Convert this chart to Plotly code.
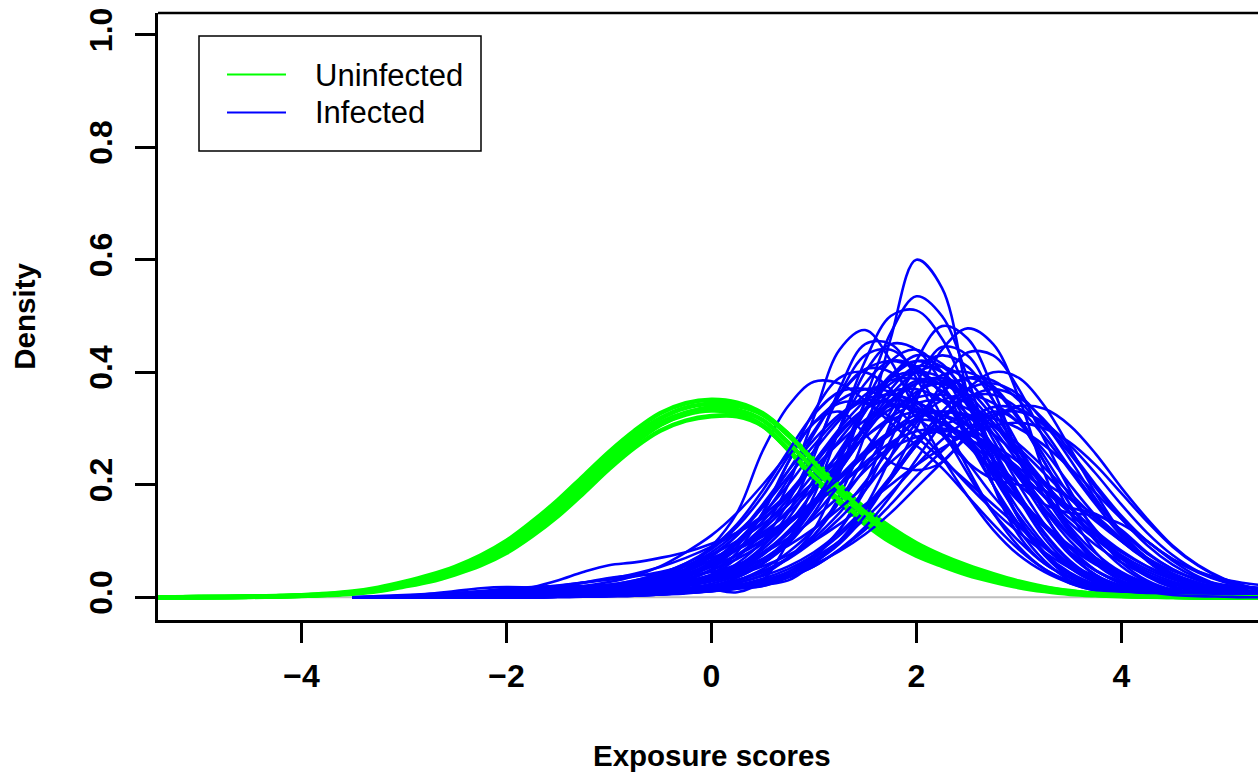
import plotly.graph_objects as go

# ---------------- data ----------------
x_green = [-5.5, -5.25, -5.0, -4.75, -4.5, -4.25, -4.0, -3.75, -3.5, -3.25,
           -3.0, -2.75, -2.5, -2.25, -2.0, -1.75, -1.5, -1.25, -1.0, -0.75,
           -0.5, -0.25, 0.0, 0.25, 0.5, 0.75, 1.0, 1.25, 1.5, 1.75,
           2.0, 2.25, 2.5, 2.75, 3.0, 3.25, 3.5, 3.75, 4.0, 4.25,
           4.5, 4.75, 5.0, 5.25, 5.5]

green_1 = [0, 0.0001, 0.0003, 0.0006, 0.0012, 0.002, 0.0035, 0.006, 0.01, 0.017,
           0.027, 0.039, 0.054, 0.074, 0.1, 0.134, 0.172, 0.215, 0.258, 0.296,
           0.327, 0.345, 0.351, 0.346, 0.327, 0.29, 0.245, 0.2, 0.158, 0.124,
           0.096, 0.074, 0.056, 0.041, 0.028, 0.018, 0.011, 0.006, 0.0035, 0.0018,
           0.0008, 0.0003, 0.0001, 0, 0]
green_2 = [0, 0, 0.0001, 0.0003, 0.0007, 0.0013, 0.0023, 0.004, 0.0065, 0.011,
           0.019, 0.028, 0.041, 0.057, 0.079, 0.109, 0.144, 0.185, 0.228, 0.266,
           0.296, 0.314, 0.322, 0.322, 0.305, 0.262, 0.21, 0.168, 0.13, 0.098,
           0.074, 0.056, 0.04, 0.028, 0.018, 0.011, 0.006, 0.0035, 0.002, 0.001,
           0.0005, 0.0002, 0, 0, 0]
green_3 = [0, 0.0001, 0.0002, 0.0005, 0.001, 0.0019, 0.0032, 0.0055, 0.009, 0.015,
           0.025, 0.036, 0.05, 0.069, 0.094, 0.127, 0.165, 0.208, 0.25, 0.288,
           0.318, 0.337, 0.344, 0.342, 0.325, 0.288, 0.242, 0.197, 0.155, 0.12,
           0.092, 0.071, 0.053, 0.038, 0.026, 0.017, 0.01, 0.006, 0.0035, 0.0018,
           0.0009, 0.0004, 0.0001, 0, 0]
green_4 = [0, 0.0001, 0.0002, 0.0004, 0.0009, 0.0016, 0.0028, 0.0047, 0.0077, 0.013,
           0.022, 0.032, 0.045, 0.063, 0.086, 0.117, 0.153, 0.194, 0.238, 0.276,
           0.307, 0.325, 0.332, 0.327, 0.305, 0.263, 0.215, 0.173, 0.135, 0.104,
           0.08, 0.061, 0.045, 0.032, 0.022, 0.013, 0.008, 0.0045, 0.0027, 0.0013,
           0.0007, 0.0003, 0.0001, 0, 0]
green_5 = [0, 0.0001, 0.0002, 0.0005, 0.001, 0.0018, 0.003, 0.005, 0.008, 0.014,
           0.023, 0.033, 0.047, 0.065, 0.089, 0.121, 0.158, 0.2, 0.243, 0.28,
           0.31, 0.328, 0.336, 0.333, 0.315, 0.275, 0.228, 0.185, 0.145, 0.112,
           0.086, 0.066, 0.049, 0.035, 0.024, 0.015, 0.009, 0.005, 0.003, 0.0015,
           0.0008, 0.0003, 0.0001, 0, 0]
green_6 = [0, 0, 0.0001, 0.0004, 0.0008, 0.0015, 0.0026, 0.0045, 0.0075, 0.0125,
           0.021, 0.031, 0.044, 0.061, 0.084, 0.115, 0.151, 0.192, 0.236, 0.274,
           0.306, 0.327, 0.338, 0.34, 0.325, 0.29, 0.24, 0.193, 0.151, 0.116,
           0.088, 0.067, 0.05, 0.036, 0.025, 0.016, 0.0095, 0.0055, 0.003, 0.0015,
           0.0008, 0.0003, 0.0001, 0, 0]

x_blue = [-3.5, -3.25, -3.0, -2.75, -2.5, -2.25, -2.0, -1.75, -1.5, -1.25,
          -1.0, -0.75, -0.5, -0.25, 0.0, 0.25, 0.5, 0.75, 1.0, 1.25,
          1.5, 1.75, 2.0, 2.25, 2.5, 2.75, 3.0, 3.25, 3.5, 3.75,
          4.0, 4.25, 4.5, 4.75, 5.0, 5.25, 5.5]

blue_01 = [0, 0, 0, 0, 0.001, 0.002, 0.003, 0.003, 0.003, 0.004,
           0.006, 0.008, 0.01, 0.013, 0.02, 0.03, 0.045, 0.07, 0.11, 0.18,
           0.29, 0.46, 0.6, 0.55, 0.36, 0.2, 0.11, 0.06, 0.035, 0.02,
           0.01, 0.005, 0.003, 0.001, 0, 0, 0]
blue_02 = [0, 0, 0, 0, 0, 0.001, 0.002, 0.003, 0.004, 0.005,
           0.006, 0.008, 0.01, 0.014, 0.02, 0.03, 0.045, 0.07, 0.12, 0.22,
           0.35, 0.47, 0.535, 0.5, 0.39, 0.25, 0.14, 0.075, 0.04, 0.02,
           0.01, 0.005, 0.002, 0.001, 0, 0, 0]
blue_03 = [0, 0, 0, 0, 0, 0, 0.001, 0.002, 0.003, 0.005,
           0.008, 0.012, 0.018, 0.025, 0.035, 0.045, 0.06, 0.1, 0.18, 0.3,
           0.42, 0.5, 0.51, 0.46, 0.36, 0.24, 0.14, 0.075, 0.035, 0.015,
           0.006, 0.002, 0.001, 0, 0, 0, 0]
blue_04 = [0, 0, 0, 0.001, 0.002, 0.003, 0.004, 0.005, 0.006, 0.008,
           0.01, 0.015, 0.02, 0.028, 0.04, 0.07, 0.12, 0.2, 0.32, 0.44,
           0.475, 0.42, 0.33, 0.25, 0.18, 0.12, 0.075, 0.045, 0.025, 0.012,
           0.006, 0.003, 0.001, 0, 0, 0, 0]
blue_05 = [0, 0, 0, 0, 0, 0, 0, 0.001, 0.002, 0.003,
           0.004, 0.006, 0.008, 0.011, 0.014, 0.017, 0.02, 0.04, 0.07, 0.12,
           0.2, 0.31, 0.42, 0.482, 0.46, 0.37, 0.25, 0.15, 0.08, 0.04,
           0.02, 0.01, 0.005, 0.002, 0.001, 0, 0]
blue_06 = [0, 0, 0, 0, 0, 0, 0, 0, 0.001, 0.002,
           0.003, 0.004, 0.006, 0.009, 0.012, 0.016, 0.022, 0.03, 0.06, 0.1,
           0.16, 0.25, 0.35, 0.44, 0.478, 0.45, 0.355, 0.22, 0.12, 0.06,
           0.03, 0.015, 0.007, 0.003, 0.001, 0, 0]
blue_07 = [0, 0, 0, 0, 0.001, 0.002, 0.003, 0.004, 0.005, 0.007,
           0.009, 0.012, 0.016, 0.022, 0.03, 0.05, 0.09, 0.15, 0.25, 0.37,
           0.45, 0.45, 0.39, 0.3, 0.22, 0.15, 0.1, 0.06, 0.035, 0.018,
           0.008, 0.003, 0.001, 0, 0, 0, 0]
blue_08 = [0, 0, 0, 0, 0.001, 0.002, 0.004, 0.006, 0.008, 0.009,
           0.01, 0.015, 0.03, 0.05, 0.09, 0.15, 0.26, 0.34, 0.383, 0.38,
           0.35, 0.31, 0.27, 0.23, 0.18, 0.13, 0.085, 0.05, 0.028, 0.014,
           0.006, 0.002, 0.001, 0, 0, 0, 0]
blue_09 = [0, 0, 0, 0, 0, 0, 0.001, 0.001, 0.002, 0.003,
           0.005, 0.007, 0.01, 0.02, 0.04, 0.08, 0.15, 0.24, 0.31, 0.33,
           0.29, 0.24, 0.226, 0.24, 0.29, 0.33, 0.31, 0.24, 0.15, 0.08,
           0.04, 0.02, 0.01, 0.005, 0.002, 0.001, 0]
blue_10 = [0, 0, 0, 0.001, 0.003, 0.005, 0.008, 0.012, 0.018, 0.02,
           0.022, 0.025, 0.028, 0.025, 0.015, 0.009, 0.03, 0.1, 0.2, 0.3,
           0.4, 0.45, 0.44, 0.38, 0.29, 0.2, 0.12, 0.065, 0.03, 0.014,
           0.006, 0.002, 0.001, 0, 0, 0, 0]
blue_11 = [0, 0, 0, 0.001, 0.002, 0.004, 0.006, 0.008, 0.01, 0.012,
           0.015, 0.02, 0.03, 0.04, 0.055, 0.075, 0.1, 0.13, 0.17, 0.21,
           0.255, 0.295, 0.325, 0.33, 0.32, 0.29, 0.25, 0.2, 0.15, 0.11,
           0.075, 0.05, 0.032, 0.02, 0.013, 0.01, 0.008]
blue_12 = [0, 0, 0, 0, 0, 0.001, 0.002, 0.003, 0.004, 0.006,
           0.008, 0.01, 0.013, 0.016, 0.02, 0.035, 0.06, 0.1, 0.16, 0.23,
           0.3, 0.35, 0.38, 0.38, 0.35, 0.3, 0.24, 0.19, 0.16, 0.148,
           0.12, 0.08, 0.05, 0.03, 0.02, 0.016, 0.014]
blue_13 = [0, 0, 0, 0, 0.001, 0.002, 0.003, 0.003, 0.004, 0.004,
           0.005, 0.012, 0.022, 0.038, 0.064, 0.1, 0.147, 0.2, 0.26, 0.315,
           0.36, 0.386, 0.388, 0.367, 0.325, 0.27, 0.213, 0.157, 0.108, 0.07,
           0.043, 0.025, 0.013, 0.007, 0.003, 0.001, 0]
blue_14 = [0, 0, 0, 0, 0, 0.001, 0.002, 0.003, 0.004, 0.005,
           0.006, 0.01, 0.018, 0.03, 0.048, 0.075, 0.11, 0.155, 0.205, 0.255,
           0.3, 0.335, 0.355, 0.36, 0.345, 0.31, 0.26, 0.205, 0.15, 0.105,
           0.068, 0.042, 0.025, 0.014, 0.008, 0.005, 0.003]
blue_15 = [0, 0.001, 0.002, 0.006, 0.011, 0.016, 0.018, 0.017, 0.015, 0.015,
           0.018, 0.025, 0.035, 0.05, 0.075, 0.11, 0.16, 0.225, 0.295, 0.36,
           0.405, 0.42, 0.405, 0.36, 0.29, 0.215, 0.145, 0.09, 0.052, 0.027,
           0.013, 0.006, 0.002, 0.001, 0, 0, 0]
blue_16 = [0, 0, 0, 0, 0, 0, 0, 0.001, 0.002, 0.003,
           0.005, 0.008, 0.011, 0.015, 0.02, 0.03, 0.05, 0.08, 0.12, 0.17,
           0.23, 0.3, 0.36, 0.395, 0.4, 0.375, 0.32, 0.25, 0.18, 0.12,
           0.072, 0.04, 0.02, 0.01, 0.005, 0.002, 0.001]
blue_17 = [0, 0, 0.001, 0.002, 0.003, 0.006, 0.01, 0.013, 0.016, 0.02,
           0.027, 0.038, 0.055, 0.08, 0.11, 0.15, 0.2, 0.255, 0.31, 0.35,
           0.37, 0.365, 0.34, 0.295, 0.24, 0.18, 0.13, 0.088, 0.055, 0.033,
           0.018, 0.009, 0.004, 0.002, 0.001, 0, 0]
blue_18 = [0, 0, 0, 0, 0, 0, 0.001, 0.002, 0.003, 0.004,
           0.006, 0.008, 0.01, 0.012, 0.015, 0.025, 0.04, 0.07, 0.11, 0.17,
           0.25, 0.33, 0.405, 0.43, 0.41, 0.35, 0.27, 0.19, 0.12, 0.07,
           0.038, 0.019, 0.009, 0.004, 0.002, 0.001, 0]
blue_19 = [0, 0, 0, 0.001, 0.002, 0.003, 0.004, 0.004, 0.005, 0.008,
           0.012, 0.018, 0.028, 0.042, 0.06, 0.085, 0.115, 0.15, 0.195, 0.24,
           0.285, 0.32, 0.345, 0.35, 0.335, 0.305, 0.265, 0.22, 0.175, 0.135,
           0.1, 0.07, 0.047, 0.032, 0.022, 0.018, 0.016]
blue_20 = [0, 0, 0, 0.001, 0.002, 0.005, 0.01, 0.018, 0.03, 0.045,
           0.057, 0.062, 0.07, 0.08, 0.095, 0.115, 0.14, 0.18, 0.24, 0.3,
           0.35, 0.39, 0.4, 0.375, 0.31, 0.23, 0.155, 0.095, 0.052, 0.026,
           0.012, 0.005, 0.002, 0.001, 0, 0, 0]
blue_21 = [0, 0, 0, 0, 0, 0, 0, 0, 0.001, 0.002,
           0.003, 0.004, 0.006, 0.008, 0.011, 0.015, 0.025, 0.04, 0.065, 0.1,
           0.15, 0.21, 0.27, 0.32, 0.355, 0.36, 0.335, 0.285, 0.225, 0.165,
           0.11, 0.07, 0.042, 0.025, 0.015, 0.01, 0.008]
blue_22 = [0, 0, 0, 0, 0.001, 0.002, 0.003, 0.004, 0.005, 0.006,
           0.008, 0.012, 0.02, 0.03, 0.05, 0.09, 0.15, 0.24, 0.33, 0.39,
           0.4, 0.37, 0.32, 0.29, 0.28, 0.26, 0.22, 0.165, 0.11, 0.065,
           0.035, 0.017, 0.008, 0.003, 0.001, 0, 0]
blue_23 = [0, 0, 0, 0.001, 0.002, 0.003, 0.004, 0.007, 0.01, 0.014,
           0.02, 0.028, 0.038, 0.05, 0.066, 0.085, 0.108, 0.135, 0.165, 0.2,
           0.24, 0.275, 0.295, 0.3, 0.29, 0.265, 0.23, 0.19, 0.15, 0.112,
           0.08, 0.055, 0.036, 0.023, 0.015, 0.01, 0.007]
blue_24 = [0, 0, 0, 0, 0, 0, 0.001, 0.002, 0.003, 0.004,
           0.005, 0.007, 0.01, 0.02, 0.035, 0.06, 0.1, 0.17, 0.26, 0.36,
           0.43, 0.44, 0.4, 0.32, 0.23, 0.15, 0.09, 0.05, 0.025, 0.012,
           0.005, 0.002, 0.001, 0, 0, 0, 0]
blue_25 = [0, 0, 0, 0, 0, 0, 0, 0, 0, 0.001,
           0.002, 0.003, 0.005, 0.008, 0.011, 0.015, 0.02, 0.035, 0.055, 0.085,
           0.12, 0.165, 0.215, 0.26, 0.3, 0.325, 0.33, 0.31, 0.27, 0.22,
           0.165, 0.115, 0.075, 0.046, 0.028, 0.018, 0.012]
blue_26 = [0, 0.002, 0.004, 0.006, 0.008, 0.01, 0.012, 0.013, 0.012, 0.01,
           0.01, 0.012, 0.016, 0.024, 0.036, 0.055, 0.085, 0.13, 0.19, 0.26,
           0.33, 0.39, 0.42, 0.41, 0.36, 0.28, 0.2, 0.13, 0.075, 0.04,
           0.019, 0.008, 0.003, 0.001, 0, 0, 0]
blue_27 = [0, 0, 0, 0, 0.001, 0.002, 0.003, 0.004, 0.006, 0.008,
           0.011, 0.016, 0.024, 0.036, 0.055, 0.085, 0.125, 0.175, 0.235, 0.29,
           0.335, 0.365, 0.37, 0.35, 0.305, 0.245, 0.18, 0.125, 0.08, 0.048,
           0.027, 0.014, 0.007, 0.003, 0.001, 0, 0]
blue_28 = [0, 0, 0, 0, 0, 0, 0.001, 0.002, 0.003, 0.004,
           0.006, 0.009, 0.013, 0.02, 0.03, 0.048, 0.075, 0.115, 0.17, 0.235,
           0.3, 0.36, 0.4, 0.41, 0.385, 0.33, 0.26, 0.19, 0.125, 0.078,
           0.045, 0.025, 0.013, 0.006, 0.003, 0.001, 0]
blue_29 = [0, 0, 0, 0, 0, 0, 0, 0.001, 0.002, 0.003,
           0.005, 0.007, 0.01, 0.014, 0.02, 0.03, 0.046, 0.07, 0.105, 0.15,
           0.205, 0.265, 0.32, 0.365, 0.39, 0.385, 0.35, 0.295, 0.23, 0.17,
           0.118, 0.078, 0.05, 0.031, 0.019, 0.012, 0.008]
blue_30 = [0, 0, 0.001, 0.002, 0.003, 0.004, 0.005, 0.006, 0.008, 0.011,
           0.016, 0.024, 0.036, 0.055, 0.08, 0.115, 0.16, 0.215, 0.27, 0.32,
           0.35, 0.345, 0.33, 0.31, 0.28, 0.235, 0.18, 0.125, 0.08, 0.047,
           0.026, 0.013, 0.006, 0.002, 0.001, 0, 0]
blue_31 = [0, 0, 0, 0, 0, 0, 0, 0.001, 0.001, 0.002,
           0.003, 0.005, 0.008, 0.013, 0.02, 0.035, 0.06, 0.1, 0.165, 0.25,
           0.345, 0.42, 0.44, 0.4, 0.32, 0.225, 0.14, 0.08, 0.04, 0.018,
           0.007, 0.003, 0.001, 0, 0, 0, 0]
blue_32 = [0, 0, 0, 0, 0, 0, 0, 0, 0.001, 0.002,
           0.003, 0.004, 0.006, 0.009, 0.013, 0.02, 0.03, 0.045, 0.07, 0.1,
           0.14, 0.185, 0.235, 0.28, 0.315, 0.338, 0.335, 0.305, 0.255, 0.195,
           0.14, 0.093, 0.058, 0.034, 0.019, 0.01, 0.005]
blue_33 = [0, 0, 0, 0.001, 0.002, 0.004, 0.006, 0.008, 0.01, 0.012,
           0.015, 0.02, 0.028, 0.04, 0.058, 0.085, 0.12, 0.165, 0.22, 0.28,
           0.335, 0.38, 0.4, 0.39, 0.35, 0.29, 0.22, 0.155, 0.1, 0.06,
           0.034, 0.018, 0.009, 0.004, 0.002, 0.001, 0]
blue_34 = [0, 0, 0, 0, 0.001, 0.002, 0.003, 0.004, 0.005, 0.007,
           0.01, 0.014, 0.02, 0.028, 0.04, 0.056, 0.078, 0.105, 0.14, 0.18,
           0.225, 0.27, 0.315, 0.35, 0.36, 0.345, 0.31, 0.26, 0.2, 0.145,
           0.1, 0.066, 0.042, 0.026, 0.016, 0.01, 0.006]
blue_35 = [0, 0.001, 0.002, 0.004, 0.007, 0.011, 0.015, 0.018, 0.02, 0.019,
           0.017, 0.016, 0.018, 0.024, 0.035, 0.055, 0.09, 0.14, 0.21, 0.3,
           0.38, 0.42, 0.41, 0.36, 0.28, 0.2, 0.13, 0.078, 0.044, 0.023,
           0.011, 0.005, 0.002, 0.001, 0, 0, 0]
blue_36 = [0, 0, 0, 0, 0, 0, 0.001, 0.001, 0.002, 0.003,
           0.004, 0.006, 0.009, 0.013, 0.018, 0.026, 0.038, 0.055, 0.08, 0.115,
           0.16, 0.215, 0.275, 0.33, 0.37, 0.38, 0.36, 0.31, 0.245, 0.175,
           0.115, 0.07, 0.04, 0.022, 0.012, 0.006, 0.003]
blue_37 = [0, 0, 0.001, 0.003, 0.005, 0.008, 0.011, 0.015, 0.02, 0.026,
           0.033, 0.042, 0.054, 0.07, 0.09, 0.115, 0.145, 0.185, 0.23, 0.275,
           0.315, 0.34, 0.335, 0.31, 0.27, 0.22, 0.17, 0.125, 0.088, 0.058,
           0.036, 0.021, 0.011, 0.005, 0.002, 0.001, 0]
blue_38 = [0, 0, 0, 0, 0, 0, 0, 0, 0.001, 0.001,
           0.002, 0.003, 0.005, 0.008, 0.012, 0.018, 0.028, 0.045, 0.075, 0.12,
           0.19, 0.28, 0.38, 0.445, 0.43, 0.35, 0.245, 0.15, 0.08, 0.038,
           0.016, 0.006, 0.002, 0.001, 0, 0, 0]
blue_39 = [0, 0, 0, 0, 0, 0.001, 0.002, 0.003, 0.004, 0.005,
           0.007, 0.01, 0.014, 0.02, 0.028, 0.04, 0.055, 0.075, 0.1, 0.13,
           0.165, 0.2, 0.235, 0.265, 0.29, 0.305, 0.31, 0.3, 0.275, 0.235,
           0.185, 0.135, 0.09, 0.056, 0.032, 0.018, 0.01]
blue_40 = [0, 0, 0, 0, 0.001, 0.002, 0.003, 0.004, 0.005, 0.007,
           0.01, 0.015, 0.024, 0.038, 0.06, 0.095, 0.145, 0.21, 0.29, 0.36,
           0.405, 0.4, 0.35, 0.29, 0.24, 0.21, 0.2, 0.19, 0.16, 0.115,
           0.07, 0.037, 0.017, 0.007, 0.003, 0.001, 0]
blue_41 = [0, 0, 0, 0, 0.001, 0.003, 0.006, 0.011, 0.018, 0.026,
           0.034, 0.039, 0.04, 0.04, 0.045, 0.058, 0.08, 0.115, 0.165, 0.225,
           0.29, 0.345, 0.38, 0.39, 0.37, 0.32, 0.25, 0.18, 0.115, 0.068,
           0.036, 0.017, 0.007, 0.003, 0.001, 0, 0]
blue_42 = [0, 0, 0, 0.001, 0.002, 0.003, 0.005, 0.007, 0.01, 0.014,
           0.02, 0.028, 0.04, 0.056, 0.076, 0.1, 0.13, 0.165, 0.205, 0.245,
           0.285, 0.315, 0.33, 0.325, 0.305, 0.27, 0.225, 0.178, 0.132, 0.093,
           0.062, 0.039, 0.023, 0.013, 0.007, 0.003, 0.001]
blue_43 = [0, 0, 0, 0, 0, 0.001, 0.002, 0.003, 0.004, 0.005,
           0.006, 0.008, 0.011, 0.016, 0.024, 0.038, 0.06, 0.095, 0.15, 0.225,
           0.31, 0.39, 0.43, 0.415, 0.35, 0.26, 0.175, 0.105, 0.057, 0.028,
           0.013, 0.005, 0.002, 0.001, 0, 0, 0]
blue_44 = [0, 0, 0, 0, 0, 0, 0, 0.001, 0.002, 0.003,
           0.004, 0.005, 0.007, 0.01, 0.015, 0.022, 0.033, 0.05, 0.075, 0.11,
           0.155, 0.21, 0.27, 0.32, 0.355, 0.37, 0.355, 0.315, 0.26, 0.2,
           0.145, 0.1, 0.068, 0.046, 0.032, 0.024, 0.02]
blue_45 = [0, 0, 0.001, 0.002, 0.003, 0.005, 0.007, 0.009, 0.012, 0.016,
           0.022, 0.03, 0.042, 0.06, 0.085, 0.125, 0.18, 0.25, 0.31, 0.345,
           0.345, 0.32, 0.285, 0.245, 0.205, 0.165, 0.125, 0.09, 0.06, 0.037,
           0.021, 0.011, 0.005, 0.002, 0.001, 0, 0]
blue_46 = [0, 0, 0, 0, 0, 0, 0.001, 0.002, 0.003, 0.004,
           0.005, 0.007, 0.01, 0.014, 0.02, 0.03, 0.045, 0.068, 0.1, 0.14,
           0.19, 0.25, 0.31, 0.365, 0.39, 0.37, 0.315, 0.24, 0.165, 0.1,
           0.055, 0.027, 0.012, 0.005, 0.002, 0.001, 0]
blue_47 = [0, 0, 0, 0.001, 0.002, 0.003, 0.004, 0.005, 0.006, 0.008,
           0.011, 0.016, 0.023, 0.033, 0.048, 0.068, 0.095, 0.13, 0.17, 0.215,
           0.26, 0.295, 0.315, 0.31, 0.285, 0.245, 0.2, 0.165, 0.15, 0.145,
           0.13, 0.1, 0.065, 0.037, 0.019, 0.009, 0.004]
blue_48 = [0, 0.001, 0.002, 0.003, 0.004, 0.005, 0.006, 0.006, 0.006, 0.006,
           0.007, 0.009, 0.013, 0.02, 0.032, 0.05, 0.078, 0.118, 0.17, 0.235,
           0.305, 0.37, 0.41, 0.4, 0.345, 0.265, 0.185, 0.115, 0.065, 0.033,
           0.015, 0.006, 0.002, 0.001, 0, 0, 0]
blue_49 = [0, 0, 0, 0.001, 0.002, 0.003, 0.005, 0.007, 0.009, 0.012,
           0.016, 0.022, 0.032, 0.048, 0.072, 0.11, 0.165, 0.225, 0.28, 0.325,
           0.352, 0.36, 0.348, 0.318, 0.275, 0.225, 0.175, 0.13, 0.092, 0.062,
           0.04, 0.024, 0.013, 0.007, 0.003, 0.001, 0]
blue_50 = [0, 0, 0, 0, 0, 0, 0, 0, 0.001, 0.002,
           0.003, 0.004, 0.006, 0.008, 0.011, 0.016, 0.024, 0.036, 0.055, 0.085,
           0.125, 0.18, 0.245, 0.31, 0.37, 0.4, 0.39, 0.34, 0.265, 0.185,
           0.115, 0.065, 0.034, 0.017, 0.008, 0.004, 0.002]
blue_51 = [0, 0, 0, 0, 0, 0, 0, 0.001, 0.002, 0.003,
           0.004, 0.006, 0.008, 0.011, 0.015, 0.02, 0.028, 0.04, 0.058, 0.082,
           0.112, 0.15, 0.195, 0.24, 0.285, 0.32, 0.34, 0.335, 0.305, 0.255,
           0.195, 0.14, 0.092, 0.057, 0.033, 0.018, 0.01]
blue_52 = [0, 0, 0.001, 0.002, 0.003, 0.005, 0.007, 0.01, 0.013, 0.017,
           0.022, 0.03, 0.042, 0.06, 0.088, 0.13, 0.19, 0.26, 0.325, 0.365,
           0.37, 0.345, 0.3, 0.25, 0.2, 0.155, 0.115, 0.08, 0.052, 0.032,
           0.018, 0.009, 0.004, 0.002, 0.001, 0, 0]
blue_53 = [0, 0, 0, 0, 0.001, 0.002, 0.003, 0.004, 0.005, 0.007,
           0.01, 0.014, 0.019, 0.026, 0.036, 0.05, 0.068, 0.092, 0.122, 0.158,
           0.198, 0.24, 0.278, 0.305, 0.32, 0.318, 0.3, 0.27, 0.23, 0.185,
           0.14, 0.1, 0.068, 0.044, 0.027, 0.016, 0.009]
blue_54 = [0, 0, 0, 0, 0.001, 0.002, 0.004, 0.007, 0.011, 0.016,
           0.021, 0.026, 0.03, 0.031, 0.033, 0.042, 0.065, 0.105, 0.165, 0.245,
           0.33, 0.395, 0.42, 0.4, 0.34, 0.26, 0.18, 0.112, 0.062, 0.031,
           0.014, 0.006, 0.002, 0.001, 0, 0, 0]
blue_55 = [0, 0, 0, 0, 0, 0.001, 0.002, 0.003, 0.004, 0.005,
           0.007, 0.01, 0.014, 0.02, 0.03, 0.045, 0.068, 0.1, 0.145, 0.2,
           0.26, 0.32, 0.365, 0.38, 0.36, 0.31, 0.25, 0.205, 0.175, 0.145,
           0.105, 0.066, 0.036, 0.018, 0.008, 0.003, 0.001]
blue_56 = [0, 0, 0, 0.001, 0.002, 0.003, 0.004, 0.005, 0.007, 0.01,
           0.014, 0.02, 0.03, 0.045, 0.066, 0.095, 0.135, 0.185, 0.24, 0.295,
           0.335, 0.35, 0.345, 0.325, 0.295, 0.26, 0.22, 0.18, 0.14, 0.103,
           0.071, 0.046, 0.028, 0.016, 0.009, 0.005, 0.002]
blue_57 = [0, 0, 0, 0, 0, 0, 0, 0, 0.001, 0.001,
           0.002, 0.003, 0.005, 0.007, 0.011, 0.017, 0.026, 0.04, 0.062, 0.095,
           0.145, 0.215, 0.3, 0.38, 0.435, 0.43, 0.37, 0.28, 0.19, 0.115,
           0.062, 0.03, 0.013, 0.005, 0.002, 0.001, 0]
blue_58 = [0, 0, 0.001, 0.002, 0.004, 0.007, 0.011, 0.016, 0.021, 0.026,
           0.031, 0.037, 0.045, 0.056, 0.07, 0.088, 0.11, 0.137, 0.168, 0.2,
           0.235, 0.265, 0.285, 0.295, 0.29, 0.27, 0.24, 0.2, 0.158, 0.118,
           0.083, 0.055, 0.034, 0.02, 0.011, 0.006, 0.003]
blue_59 = [0, 0, 0, 0, 0, 0.001, 0.002, 0.003, 0.004, 0.005,
           0.007, 0.01, 0.015, 0.022, 0.033, 0.05, 0.076, 0.113, 0.163, 0.225,
           0.29, 0.35, 0.385, 0.385, 0.35, 0.29, 0.215, 0.145, 0.088, 0.048,
           0.024, 0.011, 0.004, 0.002, 0.001, 0, 0]
blue_60 = [0, 0.001, 0.003, 0.005, 0.007, 0.009, 0.01, 0.01, 0.01, 0.011,
           0.014, 0.019, 0.027, 0.038, 0.054, 0.075, 0.102, 0.135, 0.172, 0.212,
           0.252, 0.29, 0.318, 0.33, 0.325, 0.305, 0.272, 0.23, 0.185, 0.14,
           0.1, 0.067, 0.042, 0.025, 0.014, 0.008, 0.005]

x_ticks = [-4, -2, 0, 2, 4]
x_tick_labels = ["\u22124", "\u22122", "0", "2", "4"]
y_ticks = [0.0, 0.2, 0.4, 0.6, 0.8, 1.0]
y_tick_labels = ["0.0", "0.2", "0.4", "0.6", "0.8", "1.0"]
legend_labels = ["Uninfected", "Infected"]
x_title = "Exposure scores"
y_title = "Density"

# ---------------- styling ----------------
GREEN = "#00FF00"
BLUE = "#0000FF"
FONT = "Liberation Sans, Arial, Helvetica, sans-serif"
W, H = 1258, 772
L, R, T, B = 158, 0, 13, 152
PW, PH = W - L - R, H - T - B


def px_x(p):
    return (p - L) / PW


def px_y(p):
    return (H - B - p) / PH


greens = [green_1, green_2, green_3, green_4, green_5, green_6]
blues = [blue_01, blue_02, blue_03, blue_04, blue_05, blue_06, blue_07, blue_08,
         blue_09, blue_10, blue_11, blue_12, blue_13, blue_14, blue_15, blue_16,
         blue_17, blue_18, blue_19, blue_20, blue_21, blue_22, blue_23, blue_24,
         blue_25, blue_26, blue_27, blue_28, blue_29, blue_30, blue_31, blue_32,
         blue_33, blue_34, blue_35, blue_36, blue_37, blue_38, blue_39, blue_40,
         blue_41, blue_42, blue_43, blue_44, blue_45, blue_46, blue_47, blue_48,
         blue_49, blue_50, blue_51, blue_52, blue_53, blue_54, blue_55, blue_56,
         blue_57, blue_58, blue_59, blue_60]
for g in greens:
    assert len(g) == len(x_green)
for b in blues:
    assert len(b) == len(x_blue)

fig = go.Figure()
# grey zero line of plot.density
fig.add_trace(go.Scatter(x=[-6, 6], y=[0, 0], mode="lines",
                         line=dict(color="#BEBEBE", width=2), hoverinfo="skip"))

# drawing order: most of the green bundle sits on top of the blue one at the crossing
green_after = [8, 20, 32, 42, 50, 57]
gi = 0
for i, b in enumerate(blues):
    fig.add_trace(go.Scatter(x=x_blue, y=b, mode="lines",
                             line=dict(color=BLUE, width=2.6, shape="spline"),
                             name=legend_labels[1]))
    if gi < len(greens) and i == green_after[gi]:
        fig.add_trace(go.Scatter(x=x_green, y=greens[gi], mode="lines",
                                 line=dict(color=GREEN, width=4.6, shape="spline"),
                                 name=legend_labels[0]))
        gi += 1

TICKFONT = dict(family=FONT, size=32, color="black", weight="bold")
axis_common = dict(showgrid=False, zeroline=False, showline=True, linewidth=2.5,
                   linecolor="black", ticks="outside", ticklen=20, tickwidth=2.5,
                   tickcolor="black", tickfont=TICKFONT)

fig.update_xaxes(range=[-5.40, 5.334], tickvals=x_ticks, ticktext=x_tick_labels,
                 ticklabelstandoff=6, **axis_common)
fig.update_yaxes(range=[-0.0404, 1.0386], tickvals=y_ticks, ticktext=y_tick_labels,
                 tickangle=-90, ticklabelstandoff=10, **axis_common)

shapes = [
    # top border of the box
    dict(type="line", xref="paper", yref="paper", x0=0, x1=1, y0=1, y1=1,
         line=dict(color="black", width=2.5)),
    # legend box
    dict(type="rect", xref="paper", yref="paper", x0=px_x(199), x1=px_x(481),
         y0=px_y(151), y1=px_y(36), line=dict(color="black", width=1.5),
         fillcolor="white"),
    dict(type="line", xref="paper", yref="paper", x0=px_x(227), x1=px_x(286),
         y0=px_y(74.5), y1=px_y(74.5), line=dict(color=GREEN, width=2)),
    dict(type="line", xref="paper", yref="paper", x0=px_x(227), x1=px_x(286),
         y0=px_y(112.5), y1=px_y(112.5), line=dict(color=BLUE, width=2)),
]

TITLEFONT = dict(family=FONT, size=29.5, color="black", weight="bold")
annotations = [
    dict(text=legend_labels[0], xref="paper", yref="paper", x=px_x(313), y=px_y(75),
         xanchor="left", yanchor="middle", showarrow=False,
         font=dict(family=FONT, size=31, color="black")),
    dict(text=legend_labels[1], xref="paper", yref="paper", x=px_x(313), y=px_y(113),
         xanchor="left", yanchor="middle", showarrow=False,
         font=dict(family=FONT, size=31, color="black")),
    dict(text=x_title, xref="paper", yref="paper", x=px_x(711.5), y=px_y(755),
         xanchor="center", yanchor="middle", showarrow=False, font=TITLEFONT),
    dict(text=y_title, xref="paper", yref="paper", x=px_x(25), y=px_y(316.7),
         xanchor="center", yanchor="middle", showarrow=False, textangle=-90,
         font=TITLEFONT),
]

fig.update_layout(width=W, height=H, margin=dict(l=L, r=R, t=T, b=B, pad=0),
                  plot_bgcolor="white", paper_bgcolor="white", showlegend=False,
                  font=dict(family=FONT, size=32, color="black"),
                  shapes=shapes, annotations=annotations)

fig.write_html("out.html")
